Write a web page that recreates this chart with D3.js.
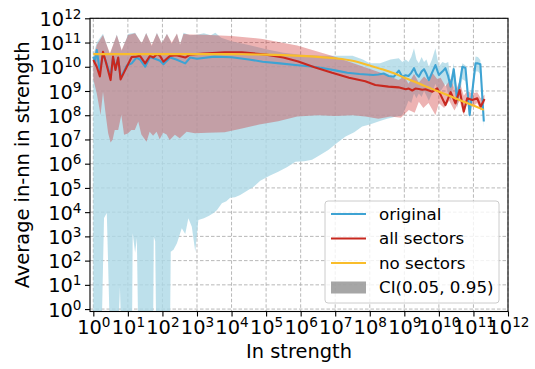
<!DOCTYPE html>
<html>
<head>
<meta charset="utf-8">
<script src="https://cdn.jsdelivr.net/npm/d3@7"></script>
<style>
  body { margin: 0; background: #fff; }
  text { font-family: "DejaVu Sans", sans-serif; fill: #000; }
</style>
</head>
<body>
<svg id="chart" width="535" height="369"></svg>
<script>
// All pairs are [log10(in strength), log10(average in-nn in strength)].
// A lower bound of -1 means the interval reaches zero (below the axis).

const originalLine = [
  [0,10.42],[0.05,10.2],[0.1,10.69],[0.19,9.8],[0.28,10.55],[0.38,10.15],[0.5,9.6],[0.57,10.38],
  [0.64,9.95],[0.72,10.35],[0.79,9.55],[0.9,9.85],[0.97,10.05],[1.11,10.14],[1.25,10.38],[1.35,10.3],
  [1.5,10.0],[1.64,10.4],[1.74,10.35],[1.84,10.3],[1.93,10.25],[2.03,10.1],[2.22,10.38],[2.4,10.3],
  [2.66,10.14],[2.8,10.38],[3.0,10.33],[3.5,10.42],[4.0,10.39],[4.5,10.3],[4.9,10.21],[5.4,10.14],
  [5.85,10.07],[6.37,10.0],[6.62,9.95],[7.0,9.85],[7.35,9.75],[7.7,9.7],[8.1,9.66],[8.25,9.68],
  [8.4,9.72],[8.55,9.62],[8.7,9.59],[8.84,9.84],[8.94,9.59],[9.04,9.65],[9.12,9.62],[9.2,9.75],
  [9.28,9.94],[9.35,9.7],[9.42,9.59],[9.5,9.8],[9.57,9.9],[9.64,9.7],[9.71,9.45],[9.8,9.75],
  [9.9,10.07],[10.0,9.66],[10.1,9.8],[10.19,9.94],[10.27,9.6],[10.34,9.18],[10.43,9.9],[10.53,8.63],
  [10.68,10.0],[10.77,9.95],[10.89,8.01],[11.06,10.14],[11.13,10.14],[11.2,10.1],[11.3,7.74]
];

const allSectorsLine = [
  [0,10.28],[0.1,10.0],[0.19,9.6],[0.28,10.62],[0.38,10.1],[0.5,9.45],[0.57,10.42],[0.64,9.87],
  [0.72,10.38],[0.79,9.48],[0.9,9.8],[0.97,10.0],[1.11,10.4],[1.25,10.42],[1.35,10.45],[1.5,10.14],
  [1.64,10.45],[1.74,10.38],[1.84,10.52],[1.93,10.45],[2.03,10.21],[2.22,10.45],[2.4,10.48],[2.66,10.38],
  [2.8,10.5],[3.2,10.55],[3.8,10.6],[4.3,10.6],[5.0,10.5],[5.5,10.38],[5.93,10.22],[6.4,9.98],
  [6.91,9.75],[7.4,9.55],[7.87,9.4],[8.16,9.25],[8.54,9.18],[8.83,9.15],[9.04,9.07],[9.13,9.1],
  [9.23,9.02],[9.32,9.1],[9.42,9.08],[9.52,9.05],[9.61,9.07],[9.71,9.02],[9.81,8.97],[9.95,9.11],
  [10.05,8.84],[10.19,8.42],[10.34,8.95],[10.48,8.49],[10.6,9.04],[10.72,8.15],[10.82,8.7],[10.97,8.63],
  [11.11,8.7],[11.21,8.35],[11.32,8.67]
];

const noSectorsLine = [
  [0,10.52],[1,10.52],[2,10.52],[3,10.52],[4,10.52],[4.5,10.51],[5,10.5],[5.5,10.48],[6,10.45],
  [6.5,10.41],[7,10.35],[7.5,10.25],[8,10.05],[8.35,9.9],[8.7,9.73],[9,9.55],[9.3,9.38],[9.6,9.2],
  [9.95,9.0],[10.3,8.8],[10.65,8.6],[11,8.4],[11.3,8.22]
];

const originalHigh = [
  [0,10.5],[0.1,11.0],[0.28,11.36],[0.48,10.5],[0.68,11.33],[0.82,10.65],[1.01,11.35],[1.21,11.4],
  [1.4,10.95],[1.53,11.4],[1.69,10.85],[1.84,11.4],[1.98,10.95],[2.13,11.36],[2.27,10.95],[2.42,11.36],
  [2.51,10.9],[2.61,11.4],[2.8,11.3],[3.0,11.32],[3.2,11.38],[3.4,11.3],[3.53,11.4],[3.7,11.2],
  [4.0,11.05],[4.5,10.9],[5.0,10.72],[5.5,10.58],[6.0,10.5],[6.6,10.45],[7.0,10.45],[7.5,10.45],
  [7.8,10.3],[8.0,10.15],[8.3,10.15],[8.6,10.3],[8.84,10.35],[8.94,10.2],[9.04,10.3],[9.12,10.2],
  [9.2,10.4],[9.28,10.76],[9.35,10.3],[9.42,10.14],[9.5,10.4],[9.57,10.2],[9.64,10.3],[9.71,10.0],
  [9.8,10.3],[9.9,10.76],[10.0,10.0],[10.1,10.2],[10.19,10.14],[10.27,10.2],[10.34,9.45],[10.43,10.14],
  [10.53,9.0],[10.68,10.14],[10.77,10.05],[10.89,8.3],[11.06,10.42],[11.13,10.4],[11.2,10.28],[11.3,8.0]
];

const originalLow = [
  [0,-1],[0.24,-1],[0.31,3.76],[0.39,3.97],[0.48,-1],[0.72,-1],[0.77,0.9],[0.81,-1],[1.12,-1],
  [1.14,3.13],[1.21,2.32],[1.26,2.93],[1.3,-1],[1.73,-1],[1.75,3.0],[1.79,2.8],[1.82,-1],[2.22,-1],
  [2.24,2.37],[2.32,2.45],[2.42,2.72],[2.56,3.34],[2.66,3.1],[2.75,3.75],[2.85,3.4],[2.95,2.37],
  [3.04,3.68],[3.2,3.75],[3.35,3.85],[3.48,3.96],[3.58,4.09],[3.72,4.37],[3.85,4.45],[3.96,4.59],
  [4.1,4.62],[4.25,4.71],[4.45,4.88],[4.64,5.05],[4.83,5.3],[5.1,5.5],[5.35,5.67],[5.6,5.85],
  [5.85,6.08],[6.1,6.1],[6.33,6.16],[6.55,6.35],[6.8,6.57],[7.05,6.85],[7.3,7.12],[7.55,7.3],
  [7.78,7.53],[8.0,7.62],[8.25,7.74],[8.5,7.85],[8.74,7.94],[8.94,8.0],[9.04,8.3],[9.12,8.6],
  [9.2,8.5],[9.28,8.9],[9.35,8.7],[9.42,8.9],[9.5,8.75],[9.57,9.0],[9.64,8.8],[9.71,8.6],[9.8,8.9],
  [9.9,9.3],[10.0,8.9],[10.1,9.1],[10.19,9.3],[10.27,8.9],[10.34,8.6],[10.43,9.3],[10.53,8.3],
  [10.68,9.5],[10.77,9.4],[10.89,7.85],[11.06,9.8],[11.13,9.8],[11.2,9.7],[11.3,7.5]
];

const allSectorsHigh = [
  [0,10.3],[0.1,10.9],[0.28,11.31],[0.48,10.56],[0.68,11.31],[0.82,10.69],[1.01,11.31],[1.21,11.38],
  [1.4,10.97],[1.53,11.38],[1.69,10.9],[1.84,11.38],[1.98,10.97],[2.13,11.35],[2.27,11.0],[2.42,11.37],
  [2.51,10.93],[2.61,11.35],[2.8,11.33],[3.2,11.32],[4.0,11.27],[4.9,11.15],[5.9,10.88],[6.9,10.45],
  [7.67,10.07],[8.36,9.73],[8.83,9.45],[9.0,9.6],[9.12,9.3],[9.28,9.7],[9.42,9.35],[9.57,9.6],
  [9.71,9.4],[9.81,9.75],[9.95,9.5],[10.05,9.55],[10.19,9.2],[10.34,9.5],[10.48,9.0],[10.6,9.4],
  [10.72,8.8],[10.82,9.0],[10.97,8.9],[11.11,8.95],[11.21,8.7],[11.32,8.85]
];

const allSectorsLow = [
  [0,9.5],[0.1,8.9],[0.21,8.01],[0.28,8.97],[0.36,8.0],[0.43,7.26],[0.5,6.87],[0.56,7.0],[0.62,7.39],
  [0.72,7.39],[0.81,8.01],[0.89,7.19],[1.0,7.25],[1.1,7.39],[1.2,7.39],[1.3,7.74],[1.39,7.2],
  [1.54,6.91],[1.63,7.32],[1.73,7.15],[1.83,7.32],[1.92,7.01],[2.02,7.28],[2.12,7.2],[2.21,6.98],
  [2.36,7.19],[2.5,7.05],[2.7,7.32],[2.94,7.26],[3.3,7.28],[3.8,7.3],[4.3,7.45],[4.8,7.62],
  [5.35,7.75],[5.9,7.95],[6.5,8.0],[7.0,7.97],[7.5,8.0],[7.87,7.95],[8.25,7.85],[8.6,7.95],[8.9,7.9],
  [9.13,8.22],[9.3,8.1],[9.42,8.56],[9.55,8.3],[9.7,8.5],[9.9,8.01],[10.0,8.5],[10.15,8.3],
  [10.3,8.6],[10.45,8.2],[10.6,8.6],[10.72,8.0],[10.82,8.5],[10.97,8.35],[11.11,8.5],[11.21,8.2],[11.32,8.5]
];

const decades = d3.range(0, 13);          // tick exponents 10^0 … 10^12
const legendItems = ["original", "all sectors", "no sectors", "CI(0.05, 0.95)"];

const colors = {
  original: "#3ea3d3",
  allSectors: "#c8281f",
  noSectors: "#f9bd2b",
  originalBand: "#add8e6",
  allSectorsBand: "#cd2d2d"
};

const pow10 = e => Math.pow(10, e);
const svg = d3.select("#chart");
const plot = { left: 90, right: 508, top: 18.3, bottom: 311.5 };

const x = d3.scaleLog().domain([pow10(-0.096), pow10(12)]).range([plot.left, plot.right]);
const y = d3.scaleLog().domain([pow10(-0.1), pow10(12)]).range([plot.bottom, plot.top]);

svg.append("defs").append("clipPath").attr("id", "plotClip")
  .append("rect")
  .attr("x", plot.left).attr("y", plot.top)
  .attr("width", plot.right - plot.left).attr("height", plot.bottom - plot.top);

// dashed grid at every decade
const grid = svg.append("g").attr("stroke", "#b0b0b0").attr("stroke-width", 0.9)
  .attr("stroke-dasharray", "3.5,2");
grid.selectAll("line.v").data(decades).join("line").attr("class", "v")
  .attr("x1", d => x(pow10(d))).attr("x2", d => x(pow10(d)))
  .attr("y1", plot.top).attr("y2", plot.bottom);
grid.selectAll("line.h").data(decades).join("line").attr("class", "h")
  .attr("y1", d => y(pow10(d))).attr("y2", d => y(pow10(d)))
  .attr("x1", plot.left).attr("x2", plot.right);

const line = d3.line().x(d => x(pow10(d[0]))).y(d => y(pow10(d[1])));
const bandPath = (hi, lo) => line(hi.concat(lo.slice().reverse())) + "Z";

const marks = svg.append("g").attr("clip-path", "url(#plotClip)");

marks.append("path").attr("d", bandPath(originalHigh, originalLow))
  .attr("fill", colors.originalBand).attr("fill-opacity", 0.8);
marks.append("path").attr("d", bandPath(allSectorsHigh, allSectorsLow))
  .attr("fill", colors.allSectorsBand).attr("fill-opacity", 0.36);

marks.append("path").attr("d", line(originalLine)).attr("fill", "none")
  .attr("stroke", colors.original).attr("stroke-width", 2.1).attr("stroke-linejoin", "round");
marks.append("path").attr("d", line(allSectorsLine)).attr("fill", "none")
  .attr("stroke", colors.allSectors).attr("stroke-width", 2.1).attr("stroke-linejoin", "round");
marks.append("path").attr("d", line.curve(d3.curveMonotoneX)(noSectorsLine)).attr("fill", "none")
  .attr("stroke", colors.noSectors).attr("stroke-width", 2.1);
line.curve(d3.curveLinear);

// axes: tick marks from d3, labels written as 10 with a superscript exponent
const tickFont = 19.4, supFont = 13.6;
function powerLabel(sel) {
  sel.each(function (d) {
    const t = d3.select(this);
    t.text(null);
    t.append("tspan").text("10");
    t.append("tspan").attr("dy", -7).attr("font-size", supFont).text(Math.round(Math.log10(d)));
  });
}

const xAxis = svg.append("g").attr("transform", `translate(0,${plot.bottom})`)
  .call(d3.axisBottom(x).tickValues(decades.map(pow10)).tickSize(5).tickFormat(() => ""));
xAxis.select(".domain").remove();
xAxis.selectAll(".tick line").attr("stroke", "#000").attr("stroke-width", 1.1);
xAxis.selectAll(".tick text").attr("y", 22.5).attr("dy", null)
  .attr("font-size", tickFont).attr("fill", "#000").call(powerLabel);

const yAxis = svg.append("g").attr("transform", `translate(${plot.left},0)`)
  .call(d3.axisLeft(y).tickValues(decades.map(pow10)).tickSize(5).tickFormat(() => ""));
yAxis.select(".domain").remove();
yAxis.selectAll(".tick line").attr("stroke", "#000").attr("stroke-width", 1.1);
yAxis.selectAll(".tick text").attr("x", -8.5).attr("dy", null).attr("y", 7.1)
  .attr("font-size", tickFont).attr("fill", "#000").attr("text-anchor", "end").call(powerLabel);

// frame
svg.append("rect").attr("x", plot.left).attr("y", plot.top)
  .attr("width", plot.right - plot.left).attr("height", plot.bottom - plot.top)
  .attr("fill", "none").attr("stroke", "#000").attr("stroke-width", 1.1);

// axis titles
svg.append("text").attr("x", (plot.left + plot.right) / 2).attr("y", 358)
  .attr("text-anchor", "middle").attr("font-size", 19.4).text("In strength");
svg.append("text").attr("transform", `translate(29,${(plot.top + plot.bottom) / 2}) rotate(-90)`)
  .attr("text-anchor", "middle").attr("font-size", 19.4).text("Average in-nn in strength");

// legend
const legend = svg.append("g");
legend.append("rect").attr("x", 325).attr("y", 201).attr("width", 174).attr("height", 102)
  .attr("rx", 3).attr("fill", "#fff").attr("fill-opacity", 0.8)
  .attr("stroke", "#cccccc").attr("stroke-width", 1);
const legendColors = [colors.original, colors.allSectors, colors.noSectors];
const rowY = [214, 238.5, 263, 287.5];
legendItems.forEach((name, i) => {
  if (i < 3) {
    legend.append("line").attr("x1", 331).attr("x2", 366).attr("y1", rowY[i]).attr("y2", rowY[i])
      .attr("stroke", legendColors[i]).attr("stroke-width", 2.1);
  } else {
    legend.append("rect").attr("x", 331).attr("y", rowY[i] - 6).attr("width", 35).attr("height", 12)
      .attr("fill", "#808080").attr("fill-opacity", 0.7);
  }
  legend.append("text").attr("x", 379).attr("y", rowY[i] + 5.8)
    .attr("font-size", 16.7).text(name);
});
</script>
</body>
</html>
